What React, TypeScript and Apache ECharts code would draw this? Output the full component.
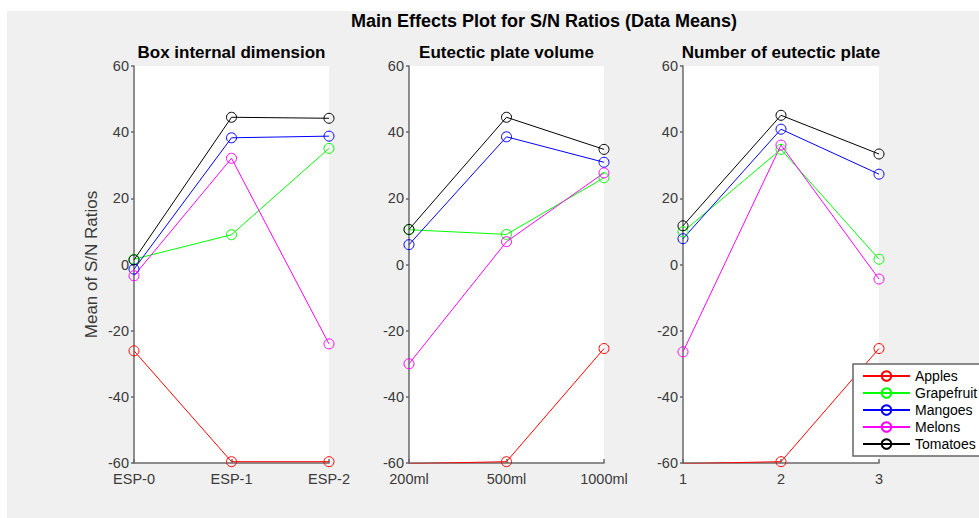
import React, { useEffect, useRef } from 'react';
import * as echarts from 'echarts';

// ---- Data ----
const seriesNames = ['Apples', 'Grapefruit', 'Mangoes', 'Melons', 'Tomatoes'];
const seriesColors = ['#ff0000', '#00ff00', '#0000ff', '#ff00ff', '#000000'];

const panelTitles = ['Box internal dimension', 'Eutectic plate volume', 'Number of eutectic plate'];
const boxLabels = ['ESP-0', 'ESP-1', 'ESP-2'];
const volumeLabels = ['200ml', '500ml', '1000ml'];
const numberLabels = ['1', '2', '3'];

// rows follow seriesNames order
const boxValues = [
  [-26.1, -59.6, -59.6],
  [1.6, 9.0, 35.1],
  [-1.4, 38.3, 38.8],
  [-3.4, 32.1, -24.0],
  [1.4, 44.5, 44.2],
];
const volumeValues = [
  [-60.2, -59.6, -25.4],
  [10.5, 9.1, 26.2],
  [6.0, 38.6, 30.9],
  [-30.0, 6.9, 27.7],
  [10.6, 44.5, 34.8],
];
const numberValues = [
  [-60.2, -59.6, -25.4],
  [9.9, 34.8, 1.6],
  [7.8, 40.9, 27.3],
  [-26.4, 36.1, -4.4],
  [11.7, 45.1, 33.4],
];

const yTicks = { min: -60, max: 60, interval: 20 };
const mainTitle = 'Main Effects Plot for S/N Ratios (Data Means)';
const yAxisTitle = 'Mean of S/N Ratios';

const FONT = '"Liberation Sans", Arial, Helvetica, sans-serif';
const AXIS_COLOR = '#6a6a6a';
const LABEL_COLOR = '#3a3a3a';

export default function App() {
  const ref = useRef<HTMLDivElement>(null);

  useEffect(() => {
    if (!ref.current) return;
    const chart = echarts.init(ref.current, undefined, { renderer: 'svg' });

    const panels = [
      { labels: boxLabels, values: boxValues, left: 134, width: 195 },
      { labels: volumeLabels, values: volumeValues, left: 409, width: 195 },
      { labels: numberLabels, values: numberValues, left: 683, width: 196 },
    ];

    const grids = panels.map((p) => ({
      left: p.left,
      top: 66,
      width: p.width,
      height: 397,
      show: true,
      backgroundColor: '#ffffff',
      borderWidth: 0,
    }));

    const xAxes = panels.map((p, i) => ({
      type: 'category',
      gridIndex: i,
      data: p.labels,
      boundaryGap: false,
      axisLine: { show: true, onZero: false, lineStyle: { color: AXIS_COLOR, width: 1.5 } },
      axisTick: { show: true, inside: true, length: 4, lineStyle: { color: AXIS_COLOR, width: 1.5 } },
      axisLabel: { color: LABEL_COLOR, fontSize: 14.5, fontFamily: FONT, margin: 8 },
      splitLine: { show: false },
    }));

    const yAxes = panels.map((p, i) => ({
      type: 'value',
      gridIndex: i,
      min: yTicks.min,
      max: yTicks.max,
      interval: yTicks.interval,
      name: i === 0 ? yAxisTitle : '',
      nameLocation: 'middle',
      nameRotate: 90,
      nameGap: 34,
      nameTextStyle: { color: LABEL_COLOR, fontSize: 17, fontFamily: FONT },
      axisLine: { show: true, onZero: false, lineStyle: { color: AXIS_COLOR, width: 1.5 } },
      axisTick: { show: true, inside: false, length: 3, lineStyle: { color: AXIS_COLOR, width: 1.5 } },
      axisLabel: { color: LABEL_COLOR, fontSize: 14.5, fontFamily: FONT, margin: 5 },
      splitLine: { show: false },
    }));

    const series: any[] = [];
    panels.forEach((p, pi) => {
      seriesNames.forEach((name, si) => {
        series.push({
          type: 'line',
          name,
          xAxisIndex: pi,
          yAxisIndex: pi,
          data: p.values[si],
          symbol: 'circle',
          symbolSize: 10,
          lineStyle: { color: seriesColors[si], width: 1 },
          itemStyle: { color: 'rgba(255,255,255,0)', borderColor: seriesColors[si], borderWidth: 1 },
          emphasis: { disabled: true },
        });
      });
    });

    const graphic: any[] = [
      { type: 'rect', z: -10, silent: true, shape: { x: 7, y: 11, width: 972, height: 507 }, style: { fill: '#f0f0f0' } },
      {
        type: 'text', x: 544, y: 21,
        style: { text: mainTitle, font: `bold 18px ${FONT}`, fill: '#000', textAlign: 'center', textVerticalAlign: 'middle' },
      },
    ];
    panels.forEach((p, i) => {
      graphic.push({
        type: 'text', x: p.left + p.width / 2, y: 52,
        style: { text: panelTitles[i], font: `bold 17px ${FONT}`, fill: '#000', textAlign: 'center', textVerticalAlign: 'middle' },
      });
    });

    chart.setOption({
      animation: false,
      backgroundColor: '#ffffff',
      grid: grids,
      xAxis: xAxes,
      yAxis: yAxes,
      series,
      graphic,
      legend: {
        data: seriesNames,
        orient: 'vertical',
        left: 853,
        top: 364,
        padding: [5, 10, 5, 9],
        itemWidth: 47,
        itemHeight: 12,
        itemGap: 3,
        selectedMode: false,
        backgroundColor: '#ffffff',
        borderColor: '#666666',
        borderWidth: 1.5,
        textStyle: { fontSize: 14, fontFamily: FONT, color: '#000', lineHeight: 14 },
      },
    });

    return () => chart.dispose();
  }, []);

  return (
    <div style={{ position: 'absolute', left: 0, top: 0, width: 979, height: 518 }}>
      <div ref={ref} style={{ width: 979, height: 518 }} />
    </div>
  );
}
